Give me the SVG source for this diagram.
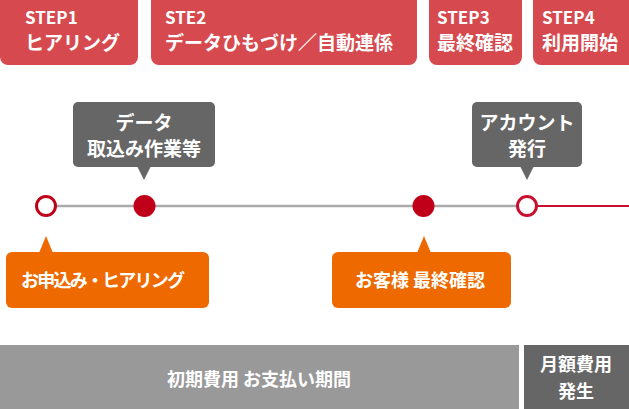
<svg xmlns="http://www.w3.org/2000/svg" width="629" height="409" viewBox="0 0 629 409">
<style>
text{font-family:"Noto Sans CJK JP","Noto Sans",sans-serif;font-weight:700;fill:#fff;font-size:18px}
.s{font-size:17px}
.j{font-size:19px}
.step{fill:#d64a4f}
.tip{fill:#666}
.org{fill:#ee6a00}
.c{text-anchor:middle}
</style>
<g id="step1"><rect class="step" x="0" y="-10" width="138" height="75" rx="8"/><text class="s" x="25" y="24">STEP1</text><text class="j" x="25" y="50">ヒアリング</text></g>
<g id="step2"><rect class="step" x="151" y="-10" width="266" height="75" rx="8"/><text class="s" x="165" y="24">STE2</text><text class="j" x="165" y="50">データひもづけ／自動連係</text></g>
<g id="step3"><rect class="step" x="429" y="-10" width="93" height="75" rx="8"/><text class="s" x="437" y="24">STEP3</text><text class="j" x="437" y="50">最終確認</text></g>
<g id="step4"><rect class="step" x="533" y="-10" width="106" height="75" rx="8"/><text class="s" x="542" y="24">STEP4</text><text class="j" x="542" y="50">利用開始</text></g>
<g id="connectors">
<line x1="46" y1="206" x2="527" y2="206" stroke="#aaa" stroke-width="2.5"/>
<line x1="527" y1="206" x2="629" y2="206" stroke="#c8102e" stroke-width="2"/>
</g>
<g id="p1"><circle cx="46" cy="206" r="9.5" fill="#fff" stroke="#c00018" stroke-width="3"/></g>
<g id="p2"><circle cx="144.5" cy="206" r="11" fill="#c00018"/></g>
<g id="p3"><circle cx="423.5" cy="206" r="11" fill="#c00018"/></g>
<g id="p4"><circle cx="527" cy="206" r="9.5" fill="#fff" stroke="#c8102e" stroke-width="3"/></g>
<g id="c1"><rect class="tip" x="73" y="102" width="142" height="65" rx="5"/><polygon class="tip" points="137,166 151,166 144,180"/><text class="c j" x="144" y="130">データ</text><text class="c j" x="144" y="156">取込み作業等</text></g>
<g id="c2"><rect class="tip" x="472" y="102" width="110" height="65" rx="5"/><polygon class="tip" points="520,166 534,166 527,180"/><text class="c j" x="527" y="130">アカウント</text><text class="c j" x="527" y="156">発行</text></g>
<g id="o1"><rect class="org" x="6" y="252" width="203" height="56" rx="6"/><polygon class="org" points="39,253 53,253 46,236"/><text x="21" y="287" textLength="164" lengthAdjust="spacing">お申込み・ヒアリング</text></g>
<g id="o2"><rect class="org" x="332" y="252" width="179" height="56" rx="6"/><polygon class="org" points="417,253 431,253 424,236"/><text class="c" x="420" y="287">お客様 最終確認</text></g>
<g id="b1"><rect x="0" y="345" width="519" height="64" fill="#999"/><text class="c" x="259" y="386">初期費用 お支払い期間</text></g>
<g id="b2"><rect x="524" y="345" width="105" height="64" fill="#666"/><text class="c" x="576" y="371">月額費用</text><text class="c" x="576" y="398">発生</text></g>
</svg>
